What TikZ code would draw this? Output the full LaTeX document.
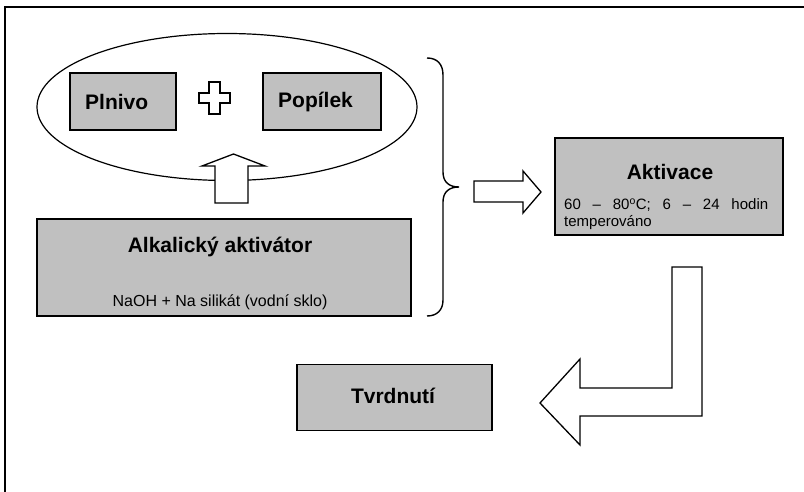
\documentclass[tikz,border=0pt]{standalone}
\usepackage{fontspec}
\setmainfont{Liberation Sans}
\usetikzlibrary{shapes.geometric}
\definecolor{boxgray}{HTML}{C0C0C0}
\begin{document}
\begin{tikzpicture}[x=1pt,y=-1pt,
  box/.style={draw=black, line width=1.7pt, fill=boxgray, inner sep=0pt},
  shapeline/.style={draw=black, line width=1.3pt, fill=white, line join=miter},
  titlef/.style={font=\fontsize{21}{25}\selectfont\bfseries, inner sep=0pt},
  smallf/.style={font=\fontsize{16}{19}\selectfont, inner sep=0pt},
  detailf/.style={font=\fontsize{15}{18}\selectfont, inner sep=0pt}]
\useasboundingbox (0,0) rectangle (804,492);
% frame
\draw[line width=2.5pt] (5,492) -- (5,7) -- (804,7);
% ellipse group
\node[draw=black, line width=1.2pt, ellipse, minimum width=380pt, minimum height=147pt, inner sep=0pt] (group) at (227,107) {};
\node[box, minimum width=106pt, minimum height=57pt] (plnivo) at (123,101.5) {};
\node[titlef, anchor=west] (plnivoT) at (85,102) {Plnivo};
\node[box, minimum width=118pt, minimum height=57pt] (popilek) at (322,101.5) {};
\node[titlef, anchor=west] (popilekT) at (278,102) {Popílek};
% plus sign
\coordinate (plus) at (214.5,98);
\draw[shapeline] ([shift={(-5.5,-16)}]plus) -- ([shift={(5.5,-16)}]plus) -- ([shift={(5.5,-5)}]plus) -- ([shift={(15.5,-5)}]plus) -- ([shift={(15.5,5)}]plus) -- ([shift={(5.5,5)}]plus) -- ([shift={(5.5,16)}]plus) -- ([shift={(-5.5,16)}]plus) -- ([shift={(-5.5,5)}]plus) -- ([shift={(-15.5,5)}]plus) -- ([shift={(-15.5,-5)}]plus) -- ([shift={(-5.5,-5)}]plus) -- cycle;
% alkalicky box
\node[box, minimum width=374pt, minimum height=97pt] (alk) at (224,267.5) {};
\node[titlef] (alkT) at (220,247) {Alkalický aktivátor};
\node[smallf] (alkS) at (220,302) {NaOH + Na silikát (vodní sklo)};
% up arrow
\draw[shapeline] (215,203) -- (215,166) -- (202,166) -- (233.5,154) -- (265,166) -- (248,166) -- (248,203) -- cycle;
% brace
\draw[line width=1.4pt] (427,58) .. controls (437,58) and (443,64) .. (443,75) -- (443,172) .. controls (443,182) and (449,187) .. (459,187) .. controls (449,187) and (443,192) .. (443,202) -- (443,300) .. controls (443,310) and (437,316) .. (427,316);
% right arrow
\draw[shapeline] (474,181) -- (523,181) -- (523,171) -- (541,192) -- (523,213) -- (523,202) -- (474,202) -- cycle;
% aktivace box
\node[box, minimum width=228pt, minimum height=97pt] (akt) at (669,186.5) {};
\node[titlef] (aktT) at (670,172) {Aktivace};
\node[detailf, anchor=west] (aktS1) at (564,205) {\makebox[204pt][s]{60 – 80\textsuperscript{o}C; 6 – 24 hodin}};
\node[detailf, anchor=west] (aktS2) at (564,223) {temperováno};
% bent arrow
\draw[shapeline] (672,267) -- (702,267) -- (702,416) -- (580,416) -- (580,445) -- (540,403) -- (580,359) -- (580,388) -- (672,388) -- cycle;
% tvrdnuti box
\node[box, minimum width=195pt, minimum height=66pt] (tvrd) at (394.5,397.5) {};
\node[titlef] (tvrdT) at (393,396) {Tvrdnutí};
\end{tikzpicture}
\end{document}
